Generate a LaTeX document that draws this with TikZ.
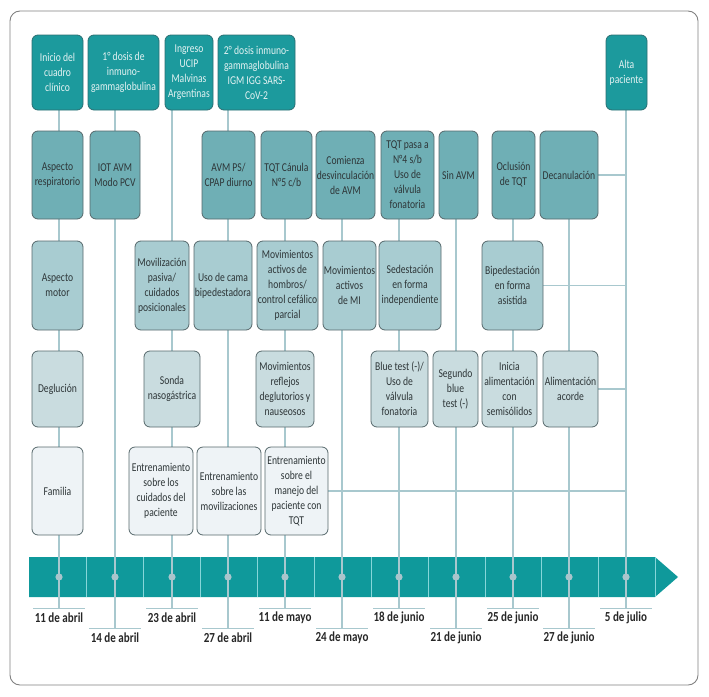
\documentclass[tikz,border=0pt]{standalone}
\usepackage{fontspec}
\setmainfont{Carlito}[FakeStretch=0.8]
\usetikzlibrary{backgrounds}
\definecolor{cA}{HTML}{1C9A9D}
\definecolor{bA}{HTML}{2B6E72}
\definecolor{tA}{HTML}{E4F2F2}
\definecolor{cB}{HTML}{6FAFB5}
\definecolor{cC}{HTML}{A8CCD1}
\definecolor{cD}{HTML}{C9DCDF}
\definecolor{cE}{HTML}{EEF3F6}
\definecolor{bx}{HTML}{56686B}
\definecolor{tx}{HTML}{2E3638}
\definecolor{lc}{HTML}{A8C8CE}
\definecolor{bandc}{HTML}{0F999B}
\definecolor{sepc}{HTML}{86D6D9}
\definecolor{dotc}{HTML}{A9C5CC}
\definecolor{framec}{HTML}{808080}
\begin{document}
\begin{tikzpicture}[x=1pt,y=-1pt,
  box/.style={rounded corners=6pt, line width=0.8pt, align=center, inner sep=0pt,
    font=\fontsize{12}{15}\selectfont, draw=bx, text=tx},
  rA/.style={box, fill=cA, draw=bA, text=tA, minimum height=75pt},
  rB/.style={box, fill=cB, minimum height=88pt},
  rC/.style={box, fill=cC, minimum height=89pt},
  rD/.style={box, fill=cD, minimum height=76pt},
  rE/.style={box, fill=cE, minimum height=88pt},
  ln/.style={draw=lc, line width=1.2pt},
  dl/.style={font=\fontsize{13.8}{15}\selectfont\bfseries, text=black!85, inner sep=0pt}]
\useasboundingbox (0,0) rectangle (709,696);

% row 1
\node[rA, minimum width=51pt] (n1a) at (57.5,72.5) {Inicio del\\cuadro\\clínico};
\node[rA, minimum width=71pt] (n1b) at (123.5,72.5) {1° dosis de\\inmuno-\\gammaglobulina};
\node[rA, minimum width=48pt] (n1c) at (189,72.5) {Ingreso\\UCIP\\Malvinas\\Argentinas};
\node[rA, minimum width=77pt] (n1d) at (256.5,72.5) {2° dosis inmuno-\\gammaglobulina\\IGM IGG SARS-\\CoV-2};
\node[rA, minimum width=41pt] (n1e) at (626.5,72.5) {Alta\\paciente};

% row 2
\node[rB, minimum width=51pt] (n2a) at (57.5,175) {Aspecto\\respiratorio};
\node[rB, minimum width=50pt] (n2b) at (115,175) {IOT AVM\\Modo PCV};
\node[rB, minimum width=53pt] (n2c) at (228.5,175) {AVM PS/\\CPAP diurno};
\node[rB, minimum width=51pt] (n2d) at (286.5,175) {TQT Cánula\\N°5 c/b};
\node[rB, minimum width=59pt] (n2e) at (345.5,175) {Comienza\\desvinculación\\de AVM};
\node[rB, minimum width=53pt] (n2f) at (407.5,175) {TQT pasa a\\N°4 s/b\\Uso de\\válvula\\fonatoria};
\node[rB, minimum width=39pt] (n2g) at (458.5,175) {Sin AVM};
\node[rB, minimum width=43pt] (n2h) at (513.5,175) {Oclusión\\de TQT};
\node[rB, minimum width=58pt] (n2i) at (569,175) {Decanulación};

% row 3
\node[rC, minimum width=51pt] (n3a) at (57.5,285.5) {Aspecto\\motor};
\node[rC, minimum width=54pt] (n3b) at (162,285.5) {Movilización\\pasiva/\\cuidados\\posicionales};
\node[rC, minimum width=58pt] (n3c) at (223,285.5) {Uso de cama\\bipedestadora};
\node[rC, minimum width=61pt] (n3d) at (287.5,285.5) {Movimientos\\activos de\\hombros/\\control cefálico\\parcial};
\node[rC, minimum width=53pt] (n3e) at (349.5,285.5) {Movimientos\\activos\\de MI};
\node[rC, minimum width=62pt] (n3f) at (410,285.5) {Sedestación\\en forma\\independiente};
\node[rC, minimum width=61pt] (n3g) at (512.5,285.5) {Bipedestación\\en forma\\asistida};

% row 4
\node[rD, minimum width=51pt] (n4a) at (57.5,389) {Deglución};
\node[rD, minimum width=56pt] (n4b) at (172,389) {Sonda\\nasogástrica};
\node[rD, minimum width=58pt] (n4c) at (285,389) {Movimientos\\reflejos\\deglutorios y\\nauseosos};
\node[rD, minimum width=57pt] (n4d) at (399.5,389) {Blue test (-)/\\Uso de\\válvula\\fonatoria};
\node[rD, minimum width=45pt] (n4e) at (455.5,389) {Segundo\\blue\\test (-)};
\node[rD, minimum width=55pt] (n4f) at (509.5,389) {Inicia\\alimentación\\con\\semisólidos};
\node[rD, minimum width=55pt] (n4g) at (570.5,389) {Alimentación\\acorde};

% row 5
\node[rE, minimum width=51pt] (n5a) at (57.5,491) {Familia};
\node[rE, minimum width=64pt] (n5b) at (161,491) {Entrenamiento\\sobre los\\cuidados del\\paciente};
\node[rE, minimum width=64pt] (n5c) at (229,491) {Entrenamiento\\sobre las\\movilizaciones};
\node[rE, minimum width=63pt] (n5d) at (296.5,491) {Entrenamiento\\sobre el\\manejo del\\paciente con\\TQT};

% timeline coordinates
\coordinate (t0) at (59,608);
\coordinate (t1) at (115,628);
\coordinate (t2) at (172,608);
\coordinate (t3) at (228,628);
\coordinate (t4) at (285,608);
\coordinate (t5) at (342,628);
\coordinate (t6) at (399,608);
\coordinate (t7) at (456,628);
\coordinate (t8) at (513,608);
\coordinate (t9) at (569,628);
\coordinate (t10) at (626,608);

\begin{pgfonlayer}{background}
  \draw[draw=framec, line width=0.9pt, rounded corners=10pt] (10,11) rectangle (698,685);
  \fill[bandc] (29,557) -- (655,557) -- (678,577) -- (655,597) -- (29,597) -- cycle;
  \foreach \x in {86,143,200,257,314,371,428,485,541,598,655}
    \draw[sepc, line width=1pt] (\x,557) -- (\x,597);
  % vertical column connectors
  \draw[ln] (n1a.south -| t0) -- (t0);
  \draw[ln] (n1b.south -| t1) -- (t1);
  \draw[ln] (n1c.south -| t2) -- (t2);
  \draw[ln] (n1d.south -| t3) -- (t3);
  \draw[ln] (n2d.south -| t4) -- (t4);
  \draw[ln] (n2e.south -| t5) -- (t5);
  \draw[ln] (n2f.south -| t6) -- (t6);
  \draw[ln] (n2g.south -| t7) -- (t7);
  \draw[ln] (n2h.south -| t8) -- (t8);
  \draw[ln] (n2i.south -| t9) -- (t9);
  \draw[ln] (n1e.south -| t10) -- (t10);
  % horizontal connectors
  \draw[ln] (n2i.east) -- (n2i.east -| t10);
  \draw[ln] (n3g.east) -- (n3g.east -| t10);
  \draw[ln] (n4g.east) -- (n4g.east -| t10);
  \draw[ln] (n5d.east) -- (n5d.east -| t10);
  % date ticks
  \foreach \i in {0,...,10}
    \draw[ln, line width=1pt] ([xshift=-26pt]t\i) -- ([xshift=26pt]t\i);
\end{pgfonlayer}

\foreach \x in {59,115,172,228,285,342,399,456,513,569,626}
  \fill[dotc] (\x,577) circle (3.6pt);

\node[dl] (d0) at (59,618) {11 de abril};
\node[dl] (d1) at (115,638) {14 de abril};
\node[dl] (d2) at (172,618) {23 de abril};
\node[dl] (d3) at (228,638) {27 de abril};
\node[dl] (d4) at (285,618) {11 de mayo};
\node[dl] (d5) at (342,638) {24 de mayo};
\node[dl] (d6) at (399,618) {18 de junio};
\node[dl] (d7) at (456,638) {21 de junio};
\node[dl] (d8) at (513,618) {25 de junio};
\node[dl] (d9) at (569,638) {27 de junio};
\node[dl] (d10) at (626,618) {5 de julio};
\end{tikzpicture}
\end{document}
